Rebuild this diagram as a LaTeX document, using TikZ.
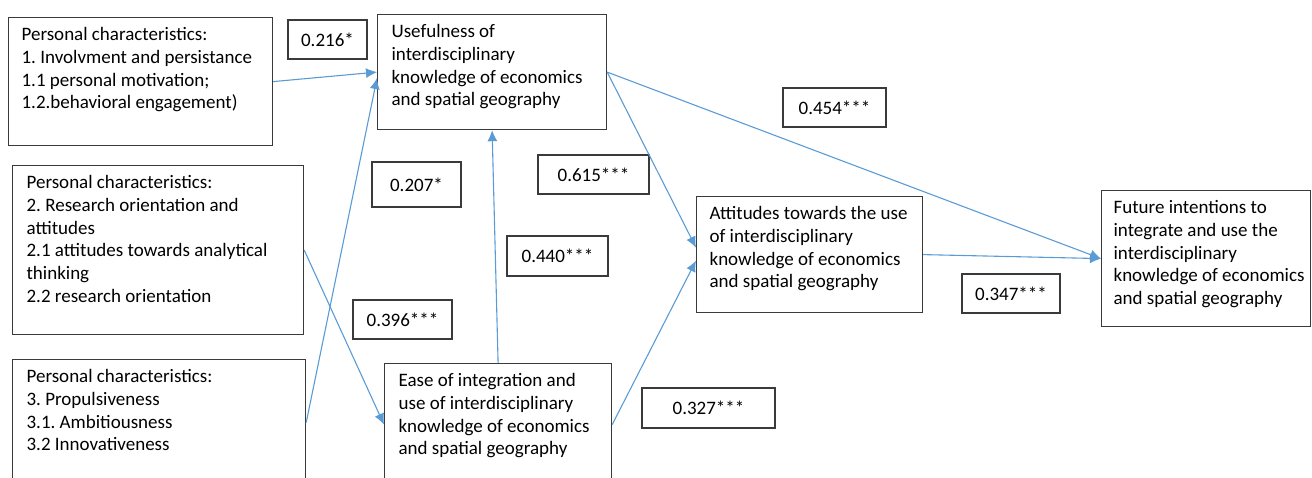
\documentclass[tikz,border=0pt]{standalone}
\usepackage{fontspec}
\setmainfont{Carlito}
\usetikzlibrary{arrows.meta}
\definecolor{linkblue}{HTML}{5B9BD5}
\definecolor{boxgrey}{HTML}{3A3A3A}
\newcommand{\boxcontent}[4]{\begin{minipage}[t][#2][t]{#1}\raggedright\leftskip=#3\relax\frenchspacing\rule{0pt}{23pt}#4\end{minipage}}
\tikzset{
  varbox/.style={draw=boxgrey, line width=1.2pt, inner sep=0pt, anchor=north west, font=\fontsize{19}{22.7}\selectfont},
  coefbox/.style={draw=boxgrey, line width=1.2pt, inner sep=0pt, font=\fontsize{19}{22.7}\selectfont, align=center},
  arr/.style={draw=linkblue, line width=1.1pt, -{Latex[length=11pt,width=10pt]}}
}
\begin{document}
\begin{tikzpicture}[x=1pt,y=-1pt]
\useasboundingbox (0,0) rectangle (1312,477);
% variable boxes
\node[varbox] (A) at (8,17) {\boxcontent{264pt}{128pt}{13pt}{Personal characteristics:\\1. Involvment and persistance\\1.1 personal motivation;\\1.2.behavioral engagement)}};
\node[varbox] (B) at (12,165) {\boxcontent{291pt}{169pt}{14pt}{Personal characteristics:\\2. Research orientation and\\attitudes\\2.1 attitudes towards analytical\\thinking\\2.2 research orientation}};
\node[varbox] (C) at (12,359) {\boxcontent{293pt}{126pt}{14pt}{Personal characteristics:\\3. Propulsiveness\\3.1. Ambitiousness\\3.2 Innovativeness}};
\node[varbox] (U) at (377,14) {\boxcontent{229pt}{115pt}{14pt}{Usefulness of\\interdisciplinary\\knowledge of economics\\and spatial geography}};
\node[varbox] (E) at (384,363) {\boxcontent{227pt}{122pt}{14pt}{Ease of integration and\\use of interdisciplinary\\knowledge of economics\\and spatial geography}};
\node[varbox] (T) at (696,196) {\boxcontent{226pt}{116pt}{13pt}{Attitudes towards the use\\of interdisciplinary\\knowledge of economics\\and spatial geography}};
\node[varbox] (F) at (1101,190) {\boxcontent{209pt}{136pt}{12pt}{Future intentions to\\integrate and use the\\interdisciplinary\\knowledge of economics\\and spatial geography}};
% coefficient boxes
\node[coefbox, minimum width=79pt, minimum height=39pt] (c216) at (327.5,39.5) {0.216*};
\node[coefbox, minimum width=89pt, minimum height=45pt] (c207) at (416.5,184.5) {0.207*};
\node[coefbox, minimum width=111pt, minimum height=39pt] (c615) at (593.5,174.5) {0.615***};
\node[coefbox, minimum width=103pt, minimum height=39pt] (c454) at (834.5,107.5) {0.454***};
\node[coefbox, minimum width=101pt, minimum height=40pt] (c440) at (557.5,256) {0.440***};
\node[coefbox, minimum width=99pt, minimum height=39pt] (c396) at (402.5,319.5) {0.396***};
\node[coefbox, minimum width=133pt, minimum height=40pt] (c327) at (708.5,408) {0.327***};
\node[coefbox, minimum width=98pt, minimum height=39pt] (c347) at (1011,293.5) {0.347***};
% connectors
\draw[arr] (A.east) -- (U.west);
\draw[arr] (C.east) -- ([yshift=-6pt]U.west);
\draw[arr] (B.east) -- (E.west);
\draw[arr] (E.north) -- (U.south);
\draw[arr] (U.east) -- ([yshift=7pt]T.west);
\draw[arr] (E.east) -- ([yshift=-6pt]T.west);
\draw[arr] (U.east) -- (F.west);
\draw[arr] (T.east) -- (F.west);
\end{tikzpicture}
\end{document}
